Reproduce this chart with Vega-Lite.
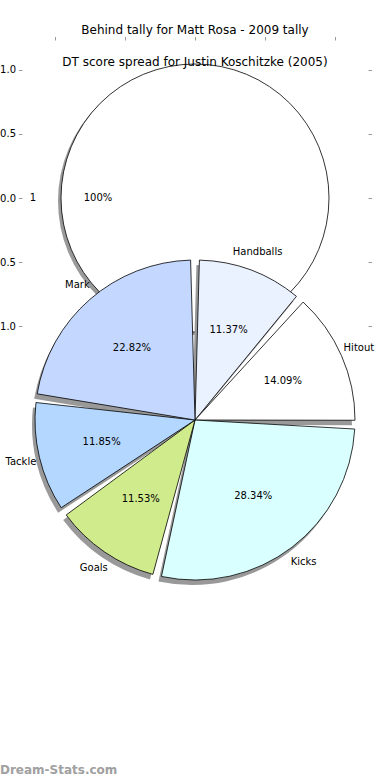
{
  "$schema": "https://vega.github.io/schema/vega-lite/v6.json",
  "width": 346,
  "height": 316,
  "autosize": {"type": "none"},
  "padding": {"left": 22, "top": 40, "right": 22, "bottom": 424},
  "background": "white",
  "config": {
    "font": "DejaVu Sans",
    "view": {"stroke": null},
    "axis": {"labelFontSize": 10, "labelColor": "black", "tickColor": "#999999", "tickSize": 3.5, "tickWidth": 1, "domain": false, "grid": false, "labelPadding": 3, "title": null, "labelFont": "DejaVu Sans"}
  },
  "title": {
    "text": "Behind tally for Matt Rosa - 2009 tally",
    "subtitle": "DT score spread for Justin Koschitzke (2005)",
    "fontSize": 12, "fontWeight": "normal", "color": "black",
    "subtitleFontSize": 12, "subtitleColor": "black", "subtitleFont": "DejaVu Sans",
    "subtitlePadding": 20, "offset": -33, "frame": "group", "anchor": "middle"
  },
  "datasets": {
    "parts": [
      {"part": "Handballs", "share": 0.1137, "rank": 1},
      {"part": "Hitout", "share": 0.1409, "rank": 2},
      {"part": "Kicks", "share": 0.2834, "rank": 3},
      {"part": "Goals", "share": 0.1153, "rank": 4},
      {"part": "Tackle", "share": 0.1185, "rank": 5},
      {"part": "Mark", "share": 0.2282, "rank": 6}
    ],
    "behind": [{"label": "1", "share": 1}],
    "credit": [{"site": "Dream-Stats.com"}]
  },
  "resolve": {"scale": {"theta": "independent"}, "axis": {"x": "independent", "y": "independent"}},
  "layer": [
    {
      "data": {"name": "behind"},
      "mark": {"type": "arc", "outerRadius": 134, "fill": "#999999", "xOffset": -3, "yOffset": 3},
      "encoding": {
        "theta": {"field": "share", "type": "quantitative", "stack": true, "scale": {"range": [1.5708, 7.854]}},
        "x": {"datum": 0, "type": "quantitative", "scale": {"domain": [-1.234, 1.234], "nice": false, "zero": false}, "axis": {"orient": "bottom", "values": [-1, -0.5, 0, 0.5, 1], "format": ".1f"}},
        "y": {"datum": 0, "type": "quantitative", "scale": {"domain": [-1.234, 1.234], "nice": false, "zero": false}, "axis": {"orient": "left", "values": [-1, -0.5, 0, 0.5, 1], "format": ".1f"}}
      }
    },
    {
      "data": {"name": "behind"},
      "mark": {"type": "arc", "outerRadius": 134, "fill": "white", "stroke": "black", "strokeWidth": 0.8},
      "encoding": {
        "theta": {"field": "share", "type": "quantitative", "stack": true, "scale": {"range": [1.5708, 7.854]}},
        "x": {"datum": 0, "type": "quantitative", "scale": {"domain": [-1.234, 1.234], "nice": false, "zero": false}, "axis": {"orient": "top", "values": [-1, -0.5, 0, 0.5, 1], "labels": false}},
        "y": {"datum": 0, "type": "quantitative", "scale": {"domain": [-1.234, 1.234], "nice": false, "zero": false}, "axis": {"orient": "right", "values": [-1, -0.5, 0, 0.5, 1], "labels": false}}
      }
    },
    {
      "data": {"name": "behind"},
      "mark": {"type": "text", "radius": 162, "fontSize": 10, "color": "black"},
      "encoding": {
        "theta": {"field": "share", "type": "quantitative", "stack": true, "scale": {"range": [1.5708, 7.854]}},
        "text": {"field": "label"},
        "x": {"datum": 0, "type": "quantitative", "scale": {"domain": [-1.234, 1.234], "nice": false, "zero": false}, "axis": null},
        "y": {"datum": 0, "type": "quantitative", "scale": {"domain": [-1.234, 1.234], "nice": false, "zero": false}, "axis": null}
      }
    },
    {
      "data": {"name": "behind"},
      "mark": {"type": "text", "radius": 97, "fontSize": 10, "color": "black"},
      "encoding": {
        "theta": {"field": "share", "type": "quantitative", "stack": true, "scale": {"range": [1.5708, 7.854]}},
        "text": {"field": "share", "format": ".0%"},
        "x": {"datum": 0, "type": "quantitative", "scale": {"domain": [-1.234, 1.234], "nice": false, "zero": false}, "axis": null},
        "y": {"datum": 0, "type": "quantitative", "scale": {"domain": [-1.234, 1.234], "nice": false, "zero": false}, "axis": null}
      }
    },
    {
      "data": {"name": "parts"},
      "mark": {"type": "arc", "outerRadius": 160, "padAngle": 0.055, "fill": "#999999", "xOffset": -3, "yOffset": 5},
      "encoding": {
        "theta": {"field": "share", "type": "quantitative", "stack": true},
        "order": {"field": "rank", "type": "quantitative"},
        "x": {"datum": 0, "type": "quantitative", "scale": {"domain": [-1.234, 1.234], "nice": false, "zero": false}, "axis": null},
        "y": {"datum": -1.734, "type": "quantitative", "scale": {"domain": [-1.234, 1.234], "nice": false, "zero": false}, "axis": null}
      }
    },
    {
      "data": {"name": "parts"},
      "mark": {"type": "arc", "outerRadius": 160, "padAngle": 0.055, "stroke": "black", "strokeWidth": 0.8},
      "encoding": {
        "theta": {"field": "share", "type": "quantitative", "stack": true},
        "order": {"field": "rank", "type": "quantitative"},
        "color": {"field": "part", "type": "nominal", "scale": {"domain": ["Handballs", "Hitout", "Kicks", "Goals", "Tackle", "Mark"], "range": ["#EAF1FF", "#FFFFFF", "#DAFFFF", "#D0EB8C", "#B4D7FF", "#C4D8FF"]}, "legend": null},
        "x": {"datum": 0, "type": "quantitative", "scale": {"domain": [-1.234, 1.234], "nice": false, "zero": false}, "axis": null},
        "y": {"datum": -1.734, "type": "quantitative", "scale": {"domain": [-1.234, 1.234], "nice": false, "zero": false}, "axis": null}
      }
    },
    {
      "data": {"name": "parts"},
      "mark": {"type": "text", "radius": 96, "fontSize": 10, "color": "black"},
      "encoding": {
        "theta": {"field": "share", "type": "quantitative", "stack": true},
        "order": {"field": "rank", "type": "quantitative"},
        "text": {"field": "share", "format": ".2%"},
        "x": {"datum": 0, "type": "quantitative", "scale": {"domain": [-1.234, 1.234], "nice": false, "zero": false}, "axis": null},
        "y": {"datum": -1.734, "type": "quantitative", "scale": {"domain": [-1.234, 1.234], "nice": false, "zero": false}, "axis": null}
      }
    },
    {
      "data": {"name": "parts"},
      "mark": {"type": "text", "radius": 179, "fontSize": 10, "color": "black"},
      "encoding": {
        "theta": {"field": "share", "type": "quantitative", "stack": true},
        "order": {"field": "rank", "type": "quantitative"},
        "text": {"field": "part"},
        "x": {"datum": 0, "type": "quantitative", "scale": {"domain": [-1.234, 1.234], "nice": false, "zero": false}, "axis": null},
        "y": {"datum": -1.734, "type": "quantitative", "scale": {"domain": [-1.234, 1.234], "nice": false, "zero": false}, "axis": null}
      }
    },
    {
      "data": {"name": "credit"},
      "mark": {"type": "text", "align": "left", "baseline": "middle", "fontSize": 12, "fontWeight": "bold", "color": "#A0A0A0"},
      "encoding": {
        "text": {"field": "site"},
        "x": {"datum": -1.391, "type": "quantitative", "scale": {"domain": [-1.234, 1.234], "nice": false, "zero": false}, "axis": null},
        "y": {"datum": -4.47, "type": "quantitative", "scale": {"domain": [-1.234, 1.234], "nice": false, "zero": false}, "axis": null}
      }
    }
  ]
}
